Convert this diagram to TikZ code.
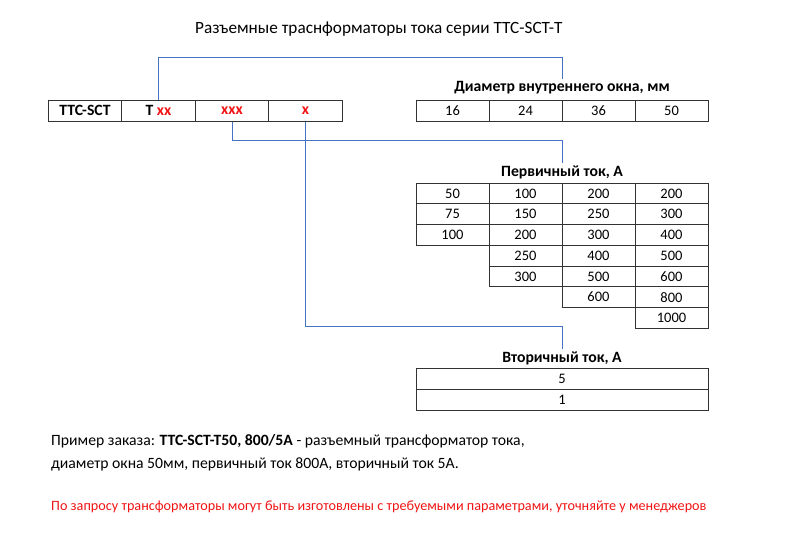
\documentclass[tikz,border=0pt]{standalone}
\usepackage{fontspec}
\setmainfont{Carlito}
\usepackage{tikz}
\definecolor{linkblue}{RGB}{68,114,196}
\definecolor{codered}{RGB}{240,20,20}

\begin{document}
\begin{tikzpicture}[x = 1pt, y = -1pt]
\tikzstyle{cellStyle}=[draw = black!80, line width = 1pt, minimum width = 73pt, minimum height = 20.75pt, inner sep = 0pt, font = \fontsize{14.5}{16}\selectfont]
\tikzstyle{codeStyle}=[cellStyle, minimum width = 73.5pt, minimum height = 21pt, font = \fontsize{15.7}{18}\selectfont\bfseries]
\tikzstyle{headStyle}=[inner sep = 2pt, font = \fontsize{15.7}{18}\selectfont\bfseries]
\tikzstyle{textStyle}=[anchor = base west, inner sep = 0pt, font = \fontsize{15.7}{18}\selectfont]
\tikzstyle{linkStyle}=[draw = linkblue, line width = 0.9pt]
\useasboundingbox (0,0) rectangle (800,535);
\node[textStyle, font = \fontsize{17.2}{19}\selectfont] (title) at (195,34) {Разъемные траснформаторы тока серии TTC-SCT-T};
% code
\node[codeStyle] (c0) at (85,110.5) {TTC-SCT};
\node[codeStyle] (c1) at (158.5,110.5) {T \textcolor{codered}{xx}};
\node[codeStyle] (c2) at (232,110.5) {\textcolor{codered}{xxx}};
\node[codeStyle] (c3) at (305.5,110.5) {\textcolor{codered}{x}};
% diameter
\node[headStyle] (dhead) at (562,88) {Диаметр внутреннего окна, мм};
\node[cellStyle] (d1) at (452.5,111) {16};
\node[cellStyle] (d2) at (525.5,111) {24};
\node[cellStyle] (d3) at (598.5,111) {36};
\node[cellStyle] (d4) at (671.5,111) {50};
% primary current
\node[headStyle] (phead) at (562,172) {Первичный ток, А};
\node[cellStyle] (p11) at (452.5,193.375) {50};
\node[cellStyle] (p12) at (452.5,214.125) {75};
\node[cellStyle] (p13) at (452.5,234.875) {100};
\node[cellStyle] (p21) at (525.5,193.375) {100};
\node[cellStyle] (p22) at (525.5,214.125) {150};
\node[cellStyle] (p23) at (525.5,234.875) {200};
\node[cellStyle] (p24) at (525.5,255.625) {250};
\node[cellStyle] (p25) at (525.5,276.375) {300};
\node[cellStyle] (p31) at (598.5,193.375) {200};
\node[cellStyle] (p32) at (598.5,214.125) {250};
\node[cellStyle] (p33) at (598.5,234.875) {300};
\node[cellStyle] (p34) at (598.5,255.625) {400};
\node[cellStyle] (p35) at (598.5,276.375) {500};
\node[cellStyle] (p36) at (598.5,297.125) {600};
\node[cellStyle] (p41) at (671.5,193.375) {200};
\node[cellStyle] (p42) at (671.5,214.125) {300};
\node[cellStyle] (p43) at (671.5,234.875) {400};
\node[cellStyle] (p44) at (671.5,255.625) {500};
\node[cellStyle] (p45) at (671.5,276.375) {600};
\node[cellStyle] (p46) at (671.5,297.125) {800};
\node[cellStyle] (p47) at (671.5,317.875) {1000};
% secondary current
\node[headStyle] (shead) at (562,358) {Вторичный ток, А};
\node[cellStyle, minimum width = 292pt] (s1) at (562,379.25) {5};
\node[cellStyle, minimum width = 292pt] (s2) at (562,399.75) {1};
% links
\path[linkStyle] (c1.north) |- ++(0,-42) -| (dhead.north);
\path[linkStyle] (c2.south) |- ++(0,19) -| (phead.north);
\path[linkStyle] (c3.south) |- ++(0,205) -| (shead.north);
% notes
\node[textStyle] (order1) at (51,445) {Пример заказа: \textbf{TTC-SCT-T50, 800/5A} - разъемный трансформатор тока,};
\node[textStyle] (order2) at (51,468) {диаметр окна 50мм, первичный ток 800А, вторичный ток 5А.};
\node[textStyle, text = codered, font = \fontsize{14.2}{16}\selectfont] (note) at (51,510) {По запросу трансформаторы могут быть изготовлены с требуемыми параметрами, уточняйте у менеджеров};
\end{tikzpicture}
\end{document}
